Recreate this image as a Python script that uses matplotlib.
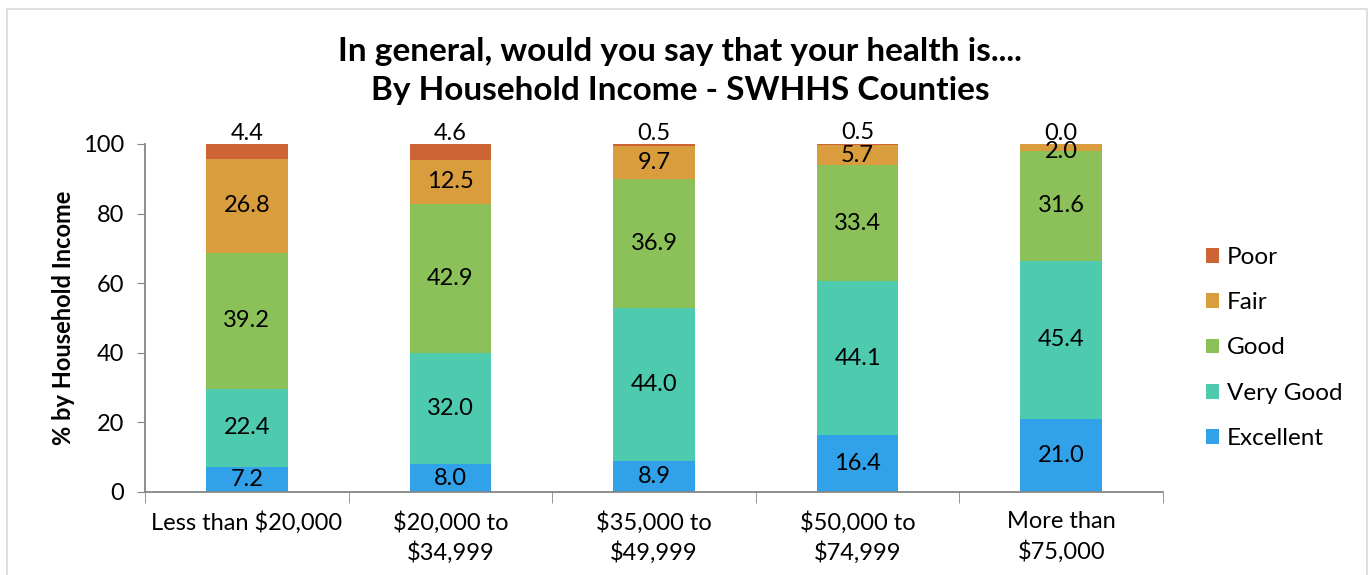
import matplotlib
matplotlib.use("Agg")
import matplotlib.pyplot as plt
from matplotlib.patches import Rectangle
import numpy as np

plt.rcParams['font.family'] = ['Lato', 'DejaVu Sans']

categories = ["Less than $20,000", "$20,000 to\n$34,999", "$35,000 to\n$49,999",
              "$50,000 to\n$74,999", "More than\n$75,000"]
series_names = ["Excellent", "Very Good", "Good", "Fair", "Poor"]
excellent = [7.2, 8.0, 8.9, 16.4, 21.0]
very_good = [22.4, 32.0, 44.0, 44.1, 45.4]
good = [39.2, 42.9, 36.9, 33.4, 31.6]
fair = [26.8, 12.5, 9.7, 5.7, 2.0]
poor = [4.4, 4.6, 0.5, 0.5, 0.0]
colors = ["#31A2EA", "#4ECBAF", "#8BC158", "#DA9D3E", "#CD6433"]

LABEL_SIZE = 17

fig = plt.figure(figsize=(13.72, 5.75), dpi=100)
ax = fig.add_axes([145 / 1372, 1 - 492 / 575, (1163 - 145) / 1372, (492 - 144) / 575])

x = np.arange(len(categories))
values = [excellent, very_good, good, fair, poor]
bottom = np.zeros(len(categories))
handles = []
for name, vals, col in zip(series_names, values, colors):
    vals = np.array(vals)
    h = ax.bar(x, vals, width=0.4, bottom=bottom, color=col, label=name)
    handles.append(h)
    for xi, b, v in zip(x, bottom, vals):
        if name == "Poor":
            ax.annotate(f"{v:.1f}", (xi, b + v), xytext=(0, 3), textcoords="offset points",
                        ha="center", va="baseline", fontsize=LABEL_SIZE)
        elif name == "Fair" and v < 3:
            ax.annotate(f"{v:.1f}", (xi, b + v / 2), xytext=(0, -3), textcoords="offset points",
                        ha="center", va="center", fontsize=LABEL_SIZE)
        else:
            ax.text(xi, b + v / 2, f"{v:.1f}", ha="center", va="center", fontsize=LABEL_SIZE)
    bottom = bottom + vals

ax.set_xlim(-0.5, len(categories) - 0.5)
ax.set_ylim(0, 100)
ax.set_yticks(range(0, 101, 20))
ax.tick_params(axis="y", labelsize=LABEL_SIZE, length=6, color="#868686", pad=9)
ax.set_xticks(x)
ax.set_xticklabels(categories, fontsize=LABEL_SIZE, linespacing=1.4)
ax.tick_params(axis="x", length=0, pad=14)
ax.set_xticks(np.arange(-0.5, len(categories), 1.0), minor=True)
ax.tick_params(axis="x", which="minor", length=8, color="#868686")
for s in ["top", "right"]:
    ax.spines[s].set_visible(False)
for s in ["left", "bottom"]:
    ax.spines[s].set_color("#868686")
    ax.spines[s].set_linewidth(1.3)

ax.set_ylabel("% by Household Income", fontsize=17, fontweight="bold", labelpad=6)

fig.text(680 / 1372, 1 - 71 / 575,
         "In general, would you say that your health is....\nBy Household Income - SWHHS Counties",
         ha="center", va="center", fontsize=24, fontweight="bold", linespacing=1.4)

leg = ax.legend(handles[::-1], series_names[::-1], loc="center left",
                bbox_to_anchor=(1184 / 1372, 1 - 348 / 575), bbox_transform=fig.transFigure,
                frameon=False, fontsize=17.5, handlelength=0.55, handleheight=0.55,
                handletextpad=0.3, labelspacing=1.0)

fig.add_artist(Rectangle((7 / 1372, -0.01), (1367 - 7) / 1372, 1 - 9 / 575 + 0.01,
                         transform=fig.transFigure, fill=False, edgecolor="#D9D9D9", linewidth=1.2))

fig.savefig("out.png", dpi=100)
